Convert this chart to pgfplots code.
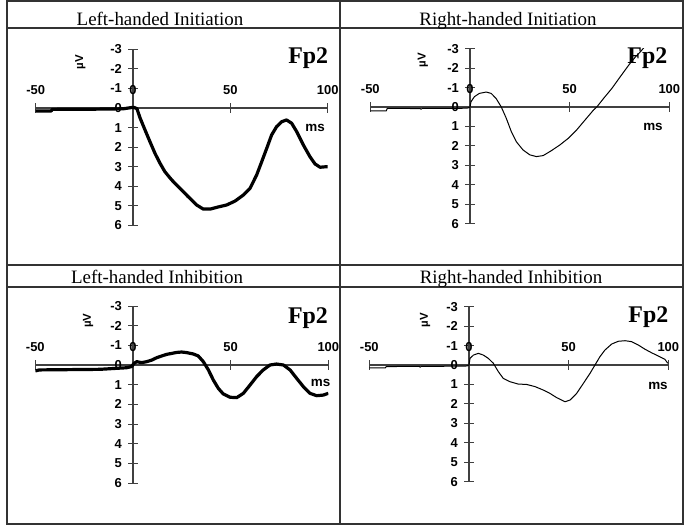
\documentclass[border=0pt]{standalone}
\usepackage{pgfplots}
\pgfplotsset{compat=1.18}
\usepackage{fontspec}
\setmainfont{Liberation Serif}
\newfontfamily\arialf{Liberation Sans}

% one ERP panel: x in ms, y in microvolts with negative up
\pgfplotsset{erp/.style={
    scale only axis, anchor=origin, clip mode=individual,
    xmin=-50, xmax=100, ymin=-3, ymax=6, y dir=reverse,
    axis lines=middle,
    axis line style={-, black!75, line width=1.1bp},
    xtick={-50,0,50,100}, ytick={-3,-2,-1,0,1,2,3,4,5,6},
    hide obscured x ticks=false, hide obscured y ticks=false,
    tick align=center, major tick length=10bp,
    tick style={black!75, line width=1bp},
    ticklabel style={font=\arialf\bfseries\fontsize{13}{15}\selectfont},
    xticklabel style={anchor=base, inner sep=0pt, yshift=19bp},
    yticklabel style={anchor=east, inner sep=0pt, xshift=-6bp},
    /pgf/number format/assume math mode=true,
  },
  thick erp/.style={black, line width=3.2bp, line join=round},
  thin erp/.style={black, line width=1bp, line join=round},
}
\newcommand{\fp}{\bfseries\fontsize{24}{28}\selectfont Fp2}
\newcommand{\ms}{\arialf\bfseries\fontsize{13.5}{15}\selectfont ms}
\newcommand{\uv}{\arialf\bfseries\fontsize{11.5}{13}\selectfont µV}

\begin{document}
\begin{tikzpicture}
\path (0,0) rectangle (685bp,-530bp);
% table frame
\begin{scope}[black!80, line width=1.7bp]
\draw (7bp,-1bp) rectangle (683bp,-524bp);
\draw (340bp,-1bp) -- (340bp,-524bp);
\draw (7bp,-28bp) -- (683bp,-28bp);
\draw (7bp,-265bp) -- (683bp,-265bp);
\draw (7bp,-287bp) -- (683bp,-287bp);
\end{scope}
\begin{scope}[font=\fontsize{19}{22}\selectfont, anchor=base, inner sep=0pt]
\node at (160bp,-25bp) {Left-handed Initiation};
\node at (508bp,-25bp) {Right-handed Initiation};
\node at (157bp,-283bp) {Left-handed Inhibition};
\node at (511bp,-283bp) {Right-handed Inhibition};
\end{scope}

% Left-handed Initiation
\begin{axis}[erp, at={(133bp,-108bp)}, width=292bp, height=176bp]
\addplot[thick erp] coordinates {
 (-50,0.15) (-42,0.15) (-41.5,0.07) (-20,0.06) (-5,0.04) (-1,-0.02) (0.5,-0.03)
 (2,0.03) (3.6,0.5) (6.2,1.13) (8.7,1.72) (11.3,2.32) (13.9,2.83) (16.4,3.26)
 (19.9,3.68) (24.1,4.11) (28.4,4.54) (32.7,4.96) (36.1,5.17) (39.6,5.17)
 (43.8,5.06) (48.1,4.96) (52.4,4.76) (56.7,4.45) (60.1,4.11) (63.5,3.43)
 (66.1,2.75) (68.7,2.06) (71.2,1.38) (73.8,0.95) (76.4,0.70) (78.9,0.61)
 (81.5,0.78) (84.1,1.21) (87.5,1.89) (90.9,2.49) (93.5,2.86) (96.1,3.03)
 (99.5,3.0) (100,3.0)
};
\node at (axis cs:90,-2.55) {\fp};
\node at (axis cs:93.5,1.0) {\ms};
\node[rotate=90] at (axis cs:-27,-2.35) {\uv};
\end{axis}

% Right-handed Initiation
\begin{axis}[erp, at={(470bp,-107bp)}, width=299bp, height=175bp]
\node at (axis cs:89,-2.5) {\fp};
\addplot[thin erp] coordinates {
 (-50,0.2) (-42,0.2) (-41.5,0.07) (-25,0.08) (-24.5,0.12) (-24,0.07) (-5,0.07)
 (-1,0.05) (0,0) (0.5,-0.27) (2.2,-0.53) (4.7,-0.70) (8.1,-0.77) (10.6,-0.70)
 (13.1,-0.44) (15.7,0) (18.2,0.58) (20.7,1.26) (23.2,1.78) (26.6,2.21)
 (30.0,2.46) (33.3,2.55) (36.7,2.50) (40.9,2.24) (45.1,1.95) (49.3,1.61)
 (53.5,1.18) (57.7,0.67) (62.0,0.15) (63.6,0) (67.0,-0.44) (71.2,-0.96)
 (75.4,-1.56) (79.6,-2.15) (83.0,-2.58) (85.5,-2.84) (88,-3.15)
};
\node at (axis cs:91.8,1.03) {\ms};
\node[rotate=90] at (axis cs:-23.6,-2.4) {\uv};
\end{axis}

% Left-handed Inhibition
\begin{axis}[erp, at={(133bp,-365bp)}, width=293bp, height=177bp]
\addplot[thick erp] coordinates {
 (-50,0.3) (-48,0.25) (-17,0.22) (-8.6,0.17) (-3.4,0.14) (-0.7,0.08)
 (0.5,-0.08) (1.9,-0.17) (4.4,-0.12) (7.0,-0.17) (9.6,-0.25) (12.1,-0.37)
 (14.7,-0.46) (17.2,-0.54) (19.8,-0.59) (22.4,-0.64) (24.9,-0.66) (27.5,-0.63)
 (30.9,-0.56) (33.4,-0.46) (36.0,-0.17) (38.6,0.25) (41.1,0.76) (43.7,1.19)
 (46.2,1.47) (49.7,1.64) (53.1,1.66) (56.5,1.44) (59.9,1.02) (63.3,0.59)
 (66.7,0.25) (70.1,0) (73.5,-0.05) (77.0,0) (80.4,0.25) (83.8,0.68)
 (87.2,1.10) (90.6,1.44) (94.0,1.56) (97.4,1.53) (100,1.44)
};
\node at (axis cs:89.6,-2.4) {\fp};
\node at (axis cs:96,0.92) {\ms};
\node[rotate=90] at (axis cs:-23,-2.25) {\uv};
\end{axis}

% Right-handed Inhibition
\begin{axis}[erp, at={(469bp,-365bp)}, width=299bp, height=175bp]
\addplot[thin erp] coordinates {
 (-50,0.15) (-42,0.15) (-41.5,0.08) (-25,0.07) (-24.5,0.11) (-24,0.07) (-5,0.06)
 (-1,0.05) (0,0) (0.5,-0.34) (2.2,-0.51) (4.7,-0.60) (7.2,-0.51) (9.7,-0.34)
 (12.2,-0.09) (14.7,0.34) (17.2,0.69) (20.6,0.86) (24.7,0.98) (28.9,1.0)
 (33.1,1.11) (37.3,1.29) (40.6,1.46) (44.0,1.68) (48.2,1.89) (50.7,1.80)
 (54.0,1.46) (57.4,0.94) (60.7,0.43) (63.2,0) (65.7,-0.43) (68.2,-0.77)
 (71.6,-1.08) (74.9,-1.22) (78.3,-1.25) (81.6,-1.20) (84.9,-1.03) (88.3,-0.81)
 (91.6,-0.63) (95.0,-0.46) (98.3,-0.29) (99.7,-0.09)
};
\node at (axis cs:90,-2.45) {\fp};
\node at (axis cs:94.8,1.08) {\ms};
\node[rotate=90] at (axis cs:-22,-2.3) {\uv};
\end{axis}
\end{tikzpicture}
\end{document}
